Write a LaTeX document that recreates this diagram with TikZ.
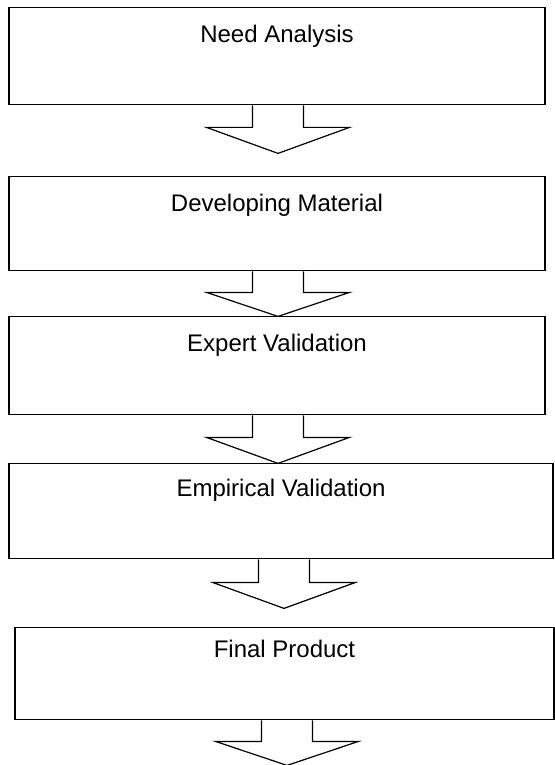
\documentclass[tikz,border=0pt]{standalone}
\usepackage{fontspec}
\setmainfont{Liberation Sans}
\usetikzlibrary{positioning, calc}

\tikzset{
  stagebox/.style={draw, line width=0.7pt, rectangle, inner sep=0pt,
    text height=17.3pt, text depth=31.2pt,
    font=\fontsize{12pt}{14pt}\selectfont},
  blockarrow/.style={draw, line width=0.6pt, line join=miter}
}

\begin{document}
\begin{tikzpicture}[x=0.5pt, y=-0.5pt]
    \useasboundingbox (0,0) rectangle (555,765);
    %
    \node[stagebox, anchor=north, minimum width=268pt] (need) at (277,7) {Need Analysis};
    \node[stagebox, anchor=north, minimum width=268pt, text depth=29.7pt] (devel) at (277,176) {Developing Material};
    \node[stagebox, anchor=north, minimum width=268pt, text depth=31.7pt] (expert) at (277,316) {Expert Validation};
    \node[stagebox, anchor=north, minimum width=272pt, text height=16.3pt] (empir) at (281,463) {Empirical Validation};
    \node[stagebox, anchor=north, minimum width=269.5pt, text height=14.8pt] (final) at (284.5,627) {Final Product};
    %
    \foreach \from / \dx / \sh / \hd in {need/1/22/26, devel/1/21/24, expert/1/22/26, empir/3/23/26, final/2.5/21/24}
    \draw[blockarrow, shift={(\from.south)}] (\dx-25.5,0) -- ++(0,\sh) -- ++(-46,0)
        -- (\dx,\sh+\hd) -- (\dx+71.5,\sh) -- ++(-46,0) -- ++(0,-\sh);
\end{tikzpicture}
\end{document}
